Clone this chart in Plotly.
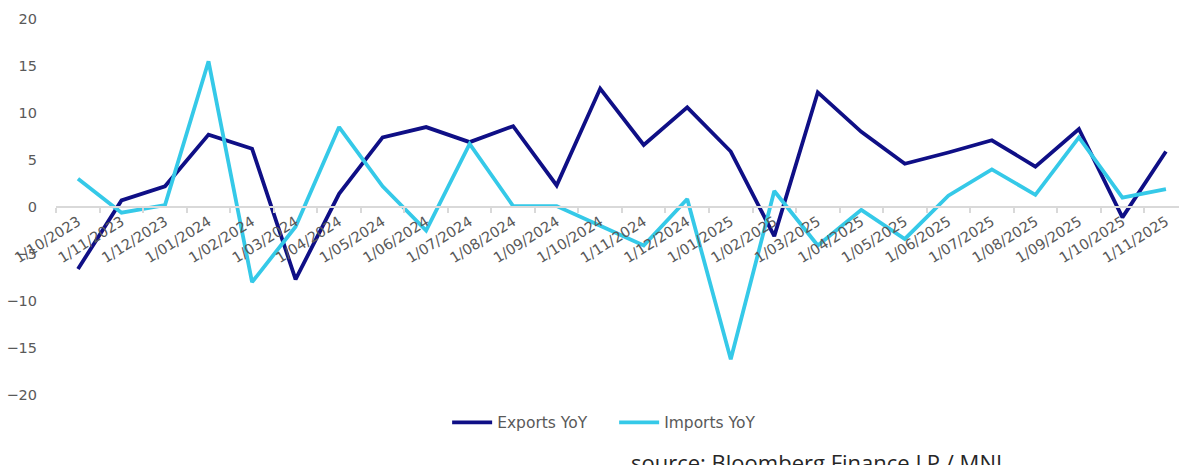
import plotly.graph_objects as go

categories = ["1/10/2023", "1/11/2023", "1/12/2023", "1/01/2024", "1/02/2024", "1/03/2024",
              "1/04/2024", "1/05/2024", "1/06/2024", "1/07/2024", "1/08/2024", "1/09/2024",
              "1/10/2024", "1/11/2024", "1/12/2024", "1/01/2025", "1/02/2025", "1/03/2025",
              "1/04/2025", "1/05/2025", "1/06/2025", "1/07/2025", "1/08/2025", "1/09/2025",
              "1/10/2025", "1/11/2025"]

exports_yoy = [-6.6, 0.7, 2.2, 7.7, 6.2, -7.7, 1.4, 7.4, 8.5, 6.9, 8.6, 2.3,
               12.6, 6.6, 10.6, 5.9, -3.1, 12.2, 8.0, 4.6, 5.8, 7.1, 4.3, 8.3,
               -1.1, 5.9]

imports_yoy = [3.0, -0.6, 0.2, 15.5, -8.0, -2.1, 8.5, 2.2, -2.5, 6.7, 0.1, 0.1,
               -2.0, -4.1, 0.85, -16.2, 1.7, -4.1, -0.3, -3.4, 1.2, 4.0, 1.3, 7.4,
               1.0, 1.9]

y_ticks = [-20, -15, -10, -5, 0, 5, 10, 15, 20]

source_text = "source: Bloomberg Finance LP / MNI"

fig = go.Figure()
fig.add_trace(go.Scatter(x=categories, y=exports_yoy, mode="lines", name="Exports YoY",
                         line=dict(color="#0f0f86", width=3.8)))
fig.add_trace(go.Scatter(x=categories, y=imports_yoy, mode="lines", name="Imports YoY",
                         line=dict(color="#35c9e8", width=3.8)))

tick_font = dict(family="DejaVu Sans", size=14.5, color="#595959")

fig.update_layout(
    width=1179, height=465,
    margin=dict(l=56, r=0, t=19, b=70),
    paper_bgcolor="white", plot_bgcolor="white",
    showlegend=True,
    legend=dict(orientation="h", x=0.497, xanchor="center", y=-0.074, yanchor="middle",
                font=dict(family="DejaVu Sans", size=15.5, color="#595959"),
                itemwidth=40, entrywidth=112, bgcolor="rgba(0,0,0,0)"),
    xaxis=dict(type="category", anchor="free", position=0.5,
               range=[-0.505, 25.3], showgrid=False, zeroline=False,
               showline=True, linecolor="#d9d9d9", linewidth=1.5,
               ticks="outside", ticklen=5, tickcolor="#d9d9d9", tickwidth=1.5,
               tickson="boundaries", tickangle=-32, tickfont=tick_font,
               automargin=False),
    yaxis=dict(range=[-20, 20], tickvals=y_ticks, showgrid=False, zeroline=False,
               showline=False, ticks="", ticklabelstandoff=18,
               tickfont=dict(family="DejaVu Sans", size=14.5, color="#595959"),
               automargin=False),
    annotations=[dict(text=source_text, xref="paper", yref="paper", x=0.677, y=-0.132,
                      xanchor="center", yanchor="top", showarrow=False,
                      font=dict(family="Open Sans", size=22, color="#262626"))],
)

fig.write_html("out.html")
